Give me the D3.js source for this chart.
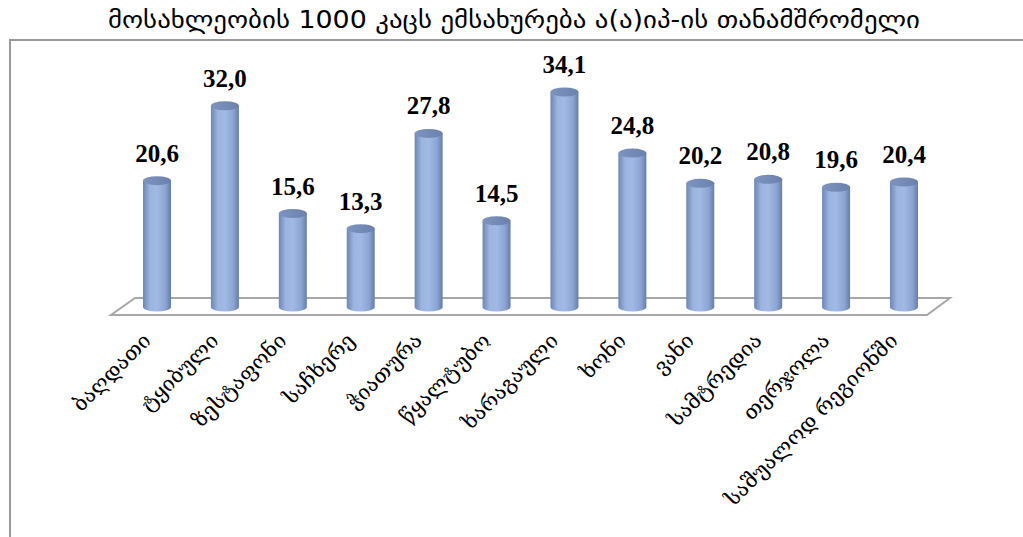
<!DOCTYPE html>
<html>
<head>
<meta charset="utf-8">
<script src="https://cdn.jsdelivr.net/npm/d3@7"></script>
<style>
  html, body { margin: 0; padding: 0; background: #fff; }
  svg { display: block; }
</style>
</head>
<body>
<svg id="chart" width="1023" height="537"></svg>
<script>
// ---- data ----
var title = 'მოსახლეობის 1000 კაცს ემსახურება ა(ა)იპ-ის თანამშრომელი';

var categories = [
  'ბაღდათი', 'ტყიბული', 'ზესტაფონი', 'საჩხერე', 'ჭიათურა', 'წყალტუბო',
  'ხარაგაული', 'ხონი', 'ვანი', 'სამტრედია', 'თერჯოლა', 'საშუალოდ რეგიონში'
];
var values = [20.6, 32.0, 15.6, 13.3, 27.8, 14.5, 34.1, 24.8, 20.2, 20.8, 19.6, 20.4];

// ---- layout ----
var svg = d3.select('#chart');
var W = 1023, H = 537;

var x = d3.scalePoint().domain(categories).range([157, 904]);
var y = d3.scaleLinear().domain([0, 34.1]).range([316, 92]);

var barW = 28, rx = barW / 2, ry = 4.5;
var baseY = 307;   // centre of the bottom ellipse on the floor

var fmt = function(v) { return d3.format('.1f')(v).replace('.', ','); };

// title
svg.append('text')
  .attr('x', 514).attr('y', 28)
  .attr('text-anchor', 'middle')
  .attr('font-family', 'DejaVu Sans')
  .attr('font-size', 24)
  .attr('textLength', 812)
  .attr('lengthAdjust', 'spacingAndGlyphs')
  .attr('fill', '#000')
  .text(title);

// frame (runs off the right and bottom edges)
svg.append('path')
  .attr('d', 'M10,' + H + 'V40H' + W)
  .attr('fill', 'none')
  .attr('stroke', '#9a9a9a')
  .attr('stroke-width', 2);

// floor
var x0 = x.range()[0], x1 = x.range()[1];
var floorBack = 298, floorFront = 315;
svg.append('path')
  .attr('d', 'M' + (x0 - 22) + ',' + floorBack + 'H' + (x1 + 46) +
             'L' + (x1 + 23) + ',' + floorFront + 'H' + (x0 - 46) + 'Z')
  .attr('fill', '#fff')
  .attr('stroke', '#a8a8a8')
  .attr('stroke-width', 2);

// gradients
var defs = svg.append('defs');
var sideGrad = defs.append('linearGradient').attr('id', 'side')
  .attr('x1', '0%').attr('x2', '100%').attr('y1', '0%').attr('y2', '0%');
sideGrad.append('stop').attr('offset', '0%').attr('stop-color', '#6f86b4');
sideGrad.append('stop').attr('offset', '25%').attr('stop-color', '#9cb4e0');
sideGrad.append('stop').attr('offset', '50%').attr('stop-color', '#a1b9e4');
sideGrad.append('stop').attr('offset', '80%').attr('stop-color', '#8ba4d2');
sideGrad.append('stop').attr('offset', '100%').attr('stop-color', '#667dab');

var topGrad = defs.append('linearGradient').attr('id', 'topcap')
  .attr('x1', '0%').attr('x2', '100%').attr('y1', '0%').attr('y2', '0%');
topGrad.append('stop').attr('offset', '0%').attr('stop-color', '#7e94c0');
topGrad.append('stop').attr('offset', '100%').attr('stop-color', '#6a81ae');

// cylinders
var bars = svg.append('g').selectAll('g')
  .data(values)
  .enter().append('g');

bars.append('path')
  .attr('fill', 'url(#side)')
  .attr('d', function(d, i) {
    var cx = x(categories[i]), ty = y(d);
    return 'M' + (cx - rx) + ',' + ty +
           'V' + baseY +
           'A' + rx + ',' + ry + ' 0 0 0 ' + (cx + rx) + ',' + baseY +
           'V' + ty + 'Z';
  });

bars.append('ellipse')
  .attr('cx', function(d, i) { return x(categories[i]); })
  .attr('cy', function(d) { return y(d); })
  .attr('rx', rx).attr('ry', ry)
  .attr('fill', 'url(#topcap)');

// value labels
svg.append('g').selectAll('text')
  .data(values)
  .enter().append('text')
  .attr('x', function(d, i) { return x(categories[i]); })
  .attr('y', function(d) { return y(d) - 19; })
  .attr('text-anchor', 'middle')
  .attr('font-family', 'Liberation Serif, serif')
  .attr('font-weight', 'bold')
  .attr('font-size', 25)
  .attr('fill', '#000')
  .text(fmt);

// category labels, rotated
svg.append('g').selectAll('text')
  .data(categories)
  .enter().append('text')
  .attr('transform', function(d) {
    return 'translate(' + (x(d) - 5) + ',342) rotate(-45)';
  })
  .attr('text-anchor', 'end')
  .attr('font-family', 'DejaVu Serif, serif')
  .attr('font-size', 21)
  .attr('fill', '#000')
  .text(function(d) { return d; });
</script>
</body>
</html>
